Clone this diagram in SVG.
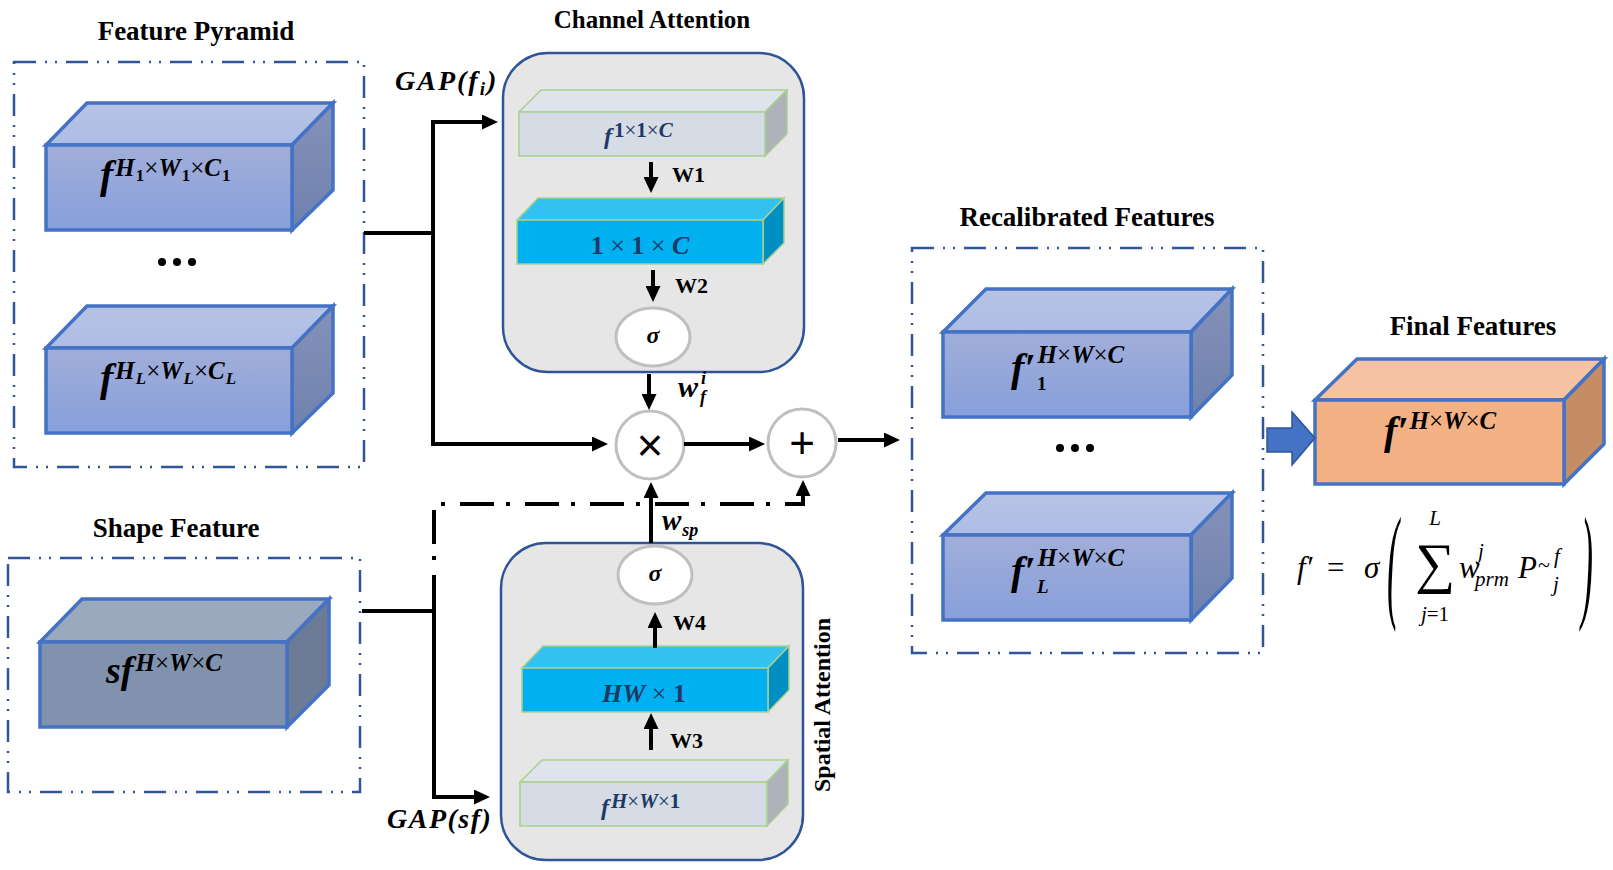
<svg xmlns="http://www.w3.org/2000/svg" width="1613" height="870" viewBox="0 0 1613 870">
<style>
.title{font-family:"Liberation Serif",serif;font-weight:bold;font-size:27px;fill:#000;text-anchor:middle}
.m{font-family:"Liberation Serif",serif;font-weight:bold;font-style:italic;fill:#000}
.u{font-style:normal}
.x{font-style:normal;font-weight:normal}
.mn{fill:#1f3864}
.lab{font-family:"Liberation Serif",serif;font-weight:bold;font-size:22px;fill:#000}
.dbox{fill:none;stroke:#2f5597;stroke-width:2.5;stroke-dasharray:22 9 2 8 2 9}
.cube{stroke:#4472c4;stroke-width:3.5;stroke-linejoin:miter}
.small{stroke:#a9d18e;stroke-width:1.5}
.cont{fill:#e7e6e6;stroke:#2f5597;stroke-width:2.5}
.circ{fill:#fff;stroke:#bfbfbf;stroke-width:3}
.ln{fill:none;stroke:#000;stroke-width:4}
.dd{fill:none;stroke:#000;stroke-width:4}
.f{font-family:"Liberation Serif",serif;font-style:italic;fill:#000}
</style>
<defs>
<marker id="ah" markerUnits="userSpaceOnUse" markerWidth="16" markerHeight="15" refX="6" refY="7.5" orient="auto">
<path d="M0,0 L16,7.5 L0,15 z" fill="#000"/>
</marker>
<linearGradient id="bf" x1="0" y1="0" x2="0" y2="1"><stop offset="0" stop-color="#a1aed9"/><stop offset="1" stop-color="#879fdb"/></linearGradient>
<linearGradient id="bt" x1="0" y1="0" x2="0" y2="1"><stop offset="0" stop-color="#b7c3e5"/><stop offset="1" stop-color="#aebde6"/></linearGradient>
<linearGradient id="br" x1="0" y1="0" x2="0" y2="1"><stop offset="0" stop-color="#8592b9"/><stop offset="1" stop-color="#6e81ad"/></linearGradient>
</defs>

<!-- Titles -->
<text class="title" x="196" y="40">Feature Pyramid</text>
<text class="title" x="652" y="28" style="font-size:25px">Channel Attention</text>
<text class="title" x="176" y="537">Shape Feature</text>
<text class="title" x="1087" y="226">Recalibrated Features</text>
<text class="title" x="1473" y="335">Final Features</text>

<!-- Feature pyramid -->
<g id="feature-pyramid">
<rect class="dbox" x="14" y="62" width="350" height="405"/>
<g id="fp1">
<polygon class="cube" fill="url(#bt)" points="46,145 87,103 333,103 292,145"/>
<polygon class="cube" fill="url(#br)" points="292,145 333,103 333,190 292,230"/>
<rect class="cube" fill="url(#bf)" x="46" y="145" width="246" height="85"/>
<text class="m" x="100" y="188" font-size="40">f<tspan font-size="25" dx="2" dy="-12" letter-spacing="1">H</tspan><tspan class="u" font-size="17" dy="5">1</tspan><tspan class="x" font-size="25" dy="-5">×</tspan><tspan font-size="25" letter-spacing="1">W</tspan><tspan class="u" font-size="17" dy="5">1</tspan><tspan class="x" font-size="25" dy="-5">×</tspan><tspan font-size="25" letter-spacing="1">C</tspan><tspan class="u" font-size="17" dy="5">1</tspan></text>
</g>
<g id="fp-dots" fill="#000"><circle cx="162" cy="262" r="4"/><circle cx="177" cy="262" r="4"/><circle cx="192" cy="262" r="4"/></g>
<g id="fpL">
<polygon class="cube" fill="url(#bt)" points="46,348 87,306 333,306 292,348"/>
<polygon class="cube" fill="url(#br)" points="292,348 333,306 333,393 292,433"/>
<rect class="cube" fill="url(#bf)" x="46" y="348" width="246" height="85"/>
<text class="m" x="100" y="391" font-size="40">f<tspan font-size="25" dx="2" dy="-12" letter-spacing="1">H</tspan><tspan font-size="17" dy="5">L</tspan><tspan class="x" font-size="25" dy="-5">×</tspan><tspan font-size="25" letter-spacing="1">W</tspan><tspan font-size="17" dy="5">L</tspan><tspan class="x" font-size="25" dy="-5">×</tspan><tspan font-size="25" letter-spacing="1">C</tspan><tspan font-size="17" dy="5">L</tspan></text>
</g>
</g>

<!-- Shape feature -->
<g id="shape-feature">
<rect class="dbox" x="8" y="558" width="352" height="234"/>
<polygon class="cube" fill="#9aa9be" points="40,642 82,599 329,599 287,642"/>
<polygon class="cube" fill="#6b7b95" points="287,642 329,599 329,685 287,727"/>
<rect class="cube" fill="#8192ae" x="40" y="642" width="247" height="85"/>
<text class="m" x="106" y="683" font-size="38">sf<tspan font-size="25" dx="2" dy="-12">H</tspan><tspan class="x" font-size="25">×</tspan><tspan font-size="25">W</tspan><tspan class="x" font-size="25">×</tspan><tspan font-size="25">C</tspan></text>
</g>

<!-- Channel attention -->
<g id="channel-attention">
<rect class="cont" x="503" y="53" width="301" height="319" rx="45"/>
<g id="ca-f">
<polygon class="small" fill="#dfe4ec" points="519,112 541,90 787,90 765,112"/>
<polygon class="small" fill="#adb2bb" points="765,112 787,90 787,134 765,156"/>
<rect class="small" fill="#d6dce5" x="519" y="112" width="246" height="44"/>
<text class="m mn" x="604" y="144" font-size="24">f<tspan class="u" font-size="21" dx="2" dy="-7">1</tspan><tspan class="x" font-size="21">×</tspan><tspan class="u" font-size="21">1</tspan><tspan class="x" font-size="21">×</tspan><tspan font-size="21">C</tspan></text>
</g>
<g id="ca-fc">
<polygon class="small" fill="#33c1f2" points="517,220 538,198 784,198 763,220"/>
<polygon class="small" fill="#008fc2" points="763,220 784,198 784,243 763,264"/>
<rect class="small" fill="#00b0f0" x="517" y="220" width="246" height="44"/>
<text class="m mn" x="640" y="254" font-size="26" text-anchor="middle"><tspan class="u">1</tspan><tspan class="x"> × </tspan><tspan class="u">1</tspan><tspan class="x"> × </tspan>C</text>
</g>
<g id="ca-sigma">
<ellipse class="circ" cx="653" cy="337" rx="37" ry="29"/>
<text class="m" x="653" y="343" font-size="24" text-anchor="middle">σ</text>
</g>
<text class="lab" x="672" y="182">W1</text>
<text class="lab" x="675" y="293">W2</text>
</g>

<!-- Spatial attention -->
<g id="spatial-attention">
<rect class="cont" x="501" y="543" width="302" height="317" rx="45"/>
<g id="sa-sigma">
<ellipse class="circ" cx="655" cy="575" rx="37" ry="29"/>
<text class="m" x="655" y="581" font-size="24" text-anchor="middle">σ</text>
</g>
<g id="sa-fc">
<polygon class="small" fill="#33c1f2" points="522,668 543,646 789,646 768,668"/>
<polygon class="small" fill="#008fc2" points="768,668 789,646 789,690 768,712"/>
<rect class="small" fill="#00b0f0" x="522" y="668" width="246" height="44"/>
<text class="m mn" x="644" y="702" font-size="26" text-anchor="middle">HW<tspan class="x"> × </tspan><tspan class="u">1</tspan></text>
</g>
<g id="sa-f">
<polygon class="small" fill="#dfe4ec" points="520,782 542,760 788,760 767,782"/>
<polygon class="small" fill="#adb2bb" points="767,782 788,760 788,804 767,826"/>
<rect class="small" fill="#d6dce5" x="520" y="782" width="247" height="44"/>
<text class="m mn" x="601" y="815" font-size="24">f<tspan font-size="21" dx="2" dy="-7">H</tspan><tspan class="x" font-size="21">×</tspan><tspan font-size="21">W</tspan><tspan class="x" font-size="21">×</tspan><tspan class="u" font-size="21">1</tspan></text>
</g>
<text class="lab" x="673" y="630">W4</text>
<text class="lab" x="670" y="748">W3</text>
<text class="lab" transform="translate(830,705) rotate(-90)" text-anchor="middle" style="font-size:24px">Spatial Attention</text>
</g>

<!-- Operators -->
<g id="mul">
<circle class="circ" cx="650" cy="445" r="34"/>
<text x="650" y="461" font-family="Liberation Sans,sans-serif" font-size="46" text-anchor="middle">×</text>
</g>
<g id="add">
<circle class="circ" cx="802" cy="443" r="34"/>
<text x="802" y="458" font-family="Liberation Sans,sans-serif" font-size="44" text-anchor="middle">+</text>
</g>

<!-- Recalibrated features -->
<g id="recalibrated">
<rect class="dbox" x="912" y="248" width="351" height="405"/>
<g id="rf1">
<polygon class="cube" fill="url(#bt)" points="943,332 986,289 1232,289 1191,332"/>
<polygon class="cube" fill="url(#br)" points="1191,332 1232,289 1232,375 1191,417"/>
<rect class="cube" fill="url(#bf)" x="943" y="332" width="248" height="85"/>
<text class="m" x="1011" y="381" font-size="40">f′<tspan font-size="25" dx="2" dy="-18">H</tspan><tspan class="x" font-size="25">×</tspan><tspan font-size="25">W</tspan><tspan class="x" font-size="25">×</tspan><tspan font-size="25">C</tspan><tspan class="u" font-size="19" x="1037" y="390">1</tspan></text>
</g>
<g id="rf-dots" fill="#000"><circle cx="1060" cy="448" r="4"/><circle cx="1075" cy="448" r="4"/><circle cx="1090" cy="448" r="4"/></g>
<g id="rfL">
<polygon class="cube" fill="url(#bt)" points="943,535 986,493 1232,493 1191,535"/>
<polygon class="cube" fill="url(#br)" points="1191,535 1232,493 1232,578 1191,620"/>
<rect class="cube" fill="url(#bf)" x="943" y="535" width="248" height="85"/>
<text class="m" x="1011" y="584" font-size="40">f′<tspan font-size="25" dx="2" dy="-18">H</tspan><tspan class="x" font-size="25">×</tspan><tspan font-size="25">W</tspan><tspan class="x" font-size="25">×</tspan><tspan font-size="25">C</tspan><tspan font-size="19" x="1037" y="593">L</tspan></text>
</g>
</g>

<!-- Final features -->
<g id="final">
<polygon class="cube" fill="#f5c3a1" points="1315,400 1357,359 1604,359 1564,400"/>
<polygon class="cube" fill="#c58d66" points="1564,400 1604,359 1604,444 1564,484"/>
<rect class="cube" fill="#f4b183" x="1315" y="400" width="249" height="84"/>
<text class="m" x="1384" y="444" font-size="40">f′<tspan font-size="25" dx="1" dy="-15">H</tspan><tspan class="x" font-size="25">×</tspan><tspan font-size="25">W</tspan><tspan class="x" font-size="25">×</tspan><tspan font-size="25">C</tspan></text>
</g>
<g id="block-arrow">
<polygon fill="#4472c4" stroke="#2f5597" stroke-width="1.5" points="1267,428 1292,428 1292,412 1315,438 1292,465 1292,452 1267,452"/>
</g>

<!-- Formula -->
<g id="formula">
<text class="f" font-size="31"><tspan x="1297" y="578">f′</tspan><tspan x="1327" y="578" font-style="normal">=</tspan><tspan x="1364" y="578">σ</tspan></text>
<text class="f" font-size="21" text-anchor="middle"><tspan x="1435" y="525">L</tspan><tspan x="1435" y="582" font-size="56" font-style="normal">∑</tspan><tspan x="1435" y="621">j<tspan font-style="normal">=1</tspan></tspan></text>
<text class="f" font-size="31"><tspan x="1459" y="578">w</tspan><tspan x="1478" y="558" font-size="21">j</tspan><tspan x="1475" y="586" font-size="21">prm</tspan><tspan x="1518" y="578">P</tspan><tspan x="1538" y="572" font-size="22" font-style="normal">~</tspan><tspan x="1554" y="563" font-size="21">f</tspan><tspan x="1553" y="591" font-size="21">j</tspan></text>
<text class="f" x="1387" y="605" font-size="36" font-style="normal" transform="translate(1387,605) scale(1,3.55) translate(-1387,-605)">(</text>
<text class="f" x="1581" y="605" font-size="36" font-style="normal" transform="translate(1581,605) scale(1,3.55) translate(-1581,-605)">)</text>
</g>

<!-- Connectors -->
<g id="connectors">
<path class="ln" d="M364,233 H433"/>
<path class="ln" d="M433,444 V122 H488" marker-end="url(#ah)"/>
<path class="ln" d="M431,444 H598" marker-end="url(#ah)"/>
<path class="ln" d="M684,444 H755" marker-end="url(#ah)"/>
<path class="ln" d="M838,440 H890" marker-end="url(#ah)"/>
<path class="ln" d="M649,374 V400" marker-end="url(#ah)"/>
<path class="ln" d="M651,543 V492" marker-end="url(#ah)"/>
<path class="ln" d="M803,504 V490" marker-end="url(#ah)"/>
<path class="ln" d="M651,162 V183" marker-end="url(#ah)"/>
<path class="ln" d="M653,270 V292" marker-end="url(#ah)"/>
<path class="ln" d="M655,648 V622" marker-end="url(#ah)"/>
<path class="ln" d="M651,750 V723" marker-end="url(#ah)"/>
<path class="ln" d="M362,611 H434"/>
<path class="ln" d="M434,609 V797 H480" marker-end="url(#ah)"/>
<path class="dd" d="M441,504 H805" stroke-dasharray="4 15 34 12"/>
<path class="dd" d="M434,510 V611" stroke-dasharray="34 12 4 15"/>
<text class="m" x="395" y="90" font-size="28" letter-spacing="2">GAP(f<tspan font-size="19" dy="5">i</tspan><tspan dy="-5">)</tspan></text>
<text class="m" x="387" y="828" font-size="28" letter-spacing="1.5">GAP(sf)</text>
<text class="m" x="678" y="397" font-size="30">w<tspan font-size="18" x="701" y="384">i</tspan><tspan font-size="18" x="700" y="403">f</tspan></text>
<text class="m" x="662" y="530" font-size="29">w<tspan font-size="18" dx="1" dy="6">sp</tspan></text>
</g>
</svg>
